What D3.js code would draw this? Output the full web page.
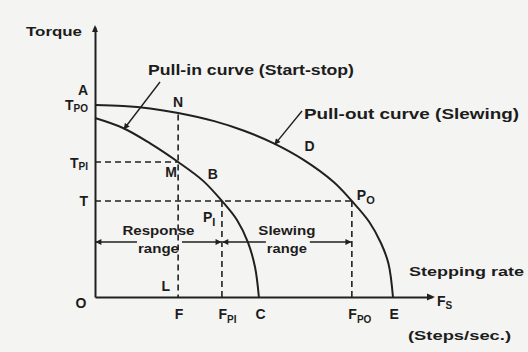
<!DOCTYPE html>
<html>
<head>
<meta charset="utf-8">
<script src="https://cdn.jsdelivr.net/npm/d3@7"></script>
<style>
  html, body { margin: 0; padding: 0; background: #f4f4f2; }
  svg { display: block; }
  text { font-family: "Liberation Sans", Arial, sans-serif; font-weight: bold; fill: #1c1c1c; }
</style>
</head>
<body>
<svg id="chart" width="528" height="352"></svg>
<script>
// Stepper motor characteristics: torque against stepping rate (normalised units)
const pullOutCurve = [[0, 1.0], [0.094, 0.995], [0.185, 0.982], [0.279, 0.958], [0.4, 0.916],
  [0.5, 0.866], [0.6, 0.8], [0.7, 0.714], [0.8, 0.6], [0.862, 0.5], [0.92, 0.392],
  [0.96, 0.28], [0.985, 0.173], [1.0, 0]];
const pullInCurve = [[0, 0.932], [0.094, 0.88], [0.185, 0.8], [0.279, 0.703], [0.362, 0.606],
  [0.426, 0.5], [0.477, 0.4], [0.513, 0.286], [0.537, 0.156], [0.55, 0]];

// Characteristic rates (x) and torques (y)
const rateF = 0.279, ratePI = 0.426, rateC = 0.55, ratePO = 0.862, rateE = 1.0;
const torquePO = 1.0, torquePI = 0.703, torqueT = 0.5;

const xTickValues = [rateF, ratePI, rateC, ratePO, rateE];
const xTickLabels = [["F", ""], ["F", "PI"], ["C", ""], ["F", "PO"], ["E", ""]];
const yTickValues = [torquePO, torquePI, torqueT];
const yTickLabels = [["T", "PO"], ["T", "PI"], ["T", ""]];

// Named points on the diagram
const pointNames = ["A", "N", "M", "B", "D", "P", "P", "L", "O"];
const pointSubs  = ["", "", "", "", "", "O", "I", "", ""];
const pointRates = [0, rateF, rateF, 0.362, 0.72, ratePO, ratePI, rateF, 0];
const pointTorques = [torquePO, 0.958, torquePI, 0.606, 0.70, torqueT, torqueT, 0, 0];

const svg = d3.select("#chart");
const ink = "#202020";

const x = d3.scaleLinear().domain([0, 1.131]).range([95, 432]);
const y = d3.scaleLinear().domain([0, 1.406]).range([297, 27]);

// defs: arrowheads
const defs = svg.append("defs");
defs.append("marker").attr("id", "tip").attr("viewBox", "0 0 10 10")
  .attr("refX", 9).attr("refY", 5).attr("markerWidth", 7).attr("markerHeight", 6)
  .attr("markerUnits", "userSpaceOnUse").attr("orient", "auto-start-reverse")
  .append("path").attr("d", "M0,0L10,5L0,10z").attr("fill", ink);

// axes (no ticks; labels are the characteristic letters)
const gx = svg.append("g").attr("transform", `translate(0,${y(0)})`)
  .call(d3.axisBottom(x).tickValues(xTickValues).tickSize(0).tickSizeOuter(0).tickFormat(() => ""));
const gy = svg.append("g").attr("transform", `translate(${x(0)},0)`)
  .call(d3.axisLeft(y).tickValues(yTickValues).tickSize(0).tickSizeOuter(0).tickFormat(() => ""));
[gx, gy].forEach(g => {
  g.select(".domain").attr("stroke", ink).attr("stroke-width", 2);
  g.attr("font-family", null).attr("font-size", null);
});

gx.selectAll(".tick text").each(function (d, i) {
  const t = d3.select(this).attr("y", 22).attr("dy", null).attr("x", -4)
    .attr("text-anchor", "start").attr("font-size", 14).attr("fill", "#1c1c1c");
  t.append("tspan").text(xTickLabels[i][0]);
  if (xTickLabels[i][1]) t.append("tspan").attr("font-size", 10).attr("dy", 4).text(xTickLabels[i][1]);
});
gy.selectAll(".tick text").each(function (d, i) {
  const t = d3.select(this).attr("x", -7).attr("dy", null).attr("y", 0)
    .attr("text-anchor", "end").attr("font-size", 14).attr("fill", "#1c1c1c");
  t.append("tspan").attr("dy", 5).text(yTickLabels[i][0]);
  if (yTickLabels[i][1]) t.append("tspan").attr("font-size", 10).attr("dy", 2).text(yTickLabels[i][1]);
});

// axis arrowheads
const xEnd = x.range()[1], yTop = y.range()[1];
svg.append("path").attr("d", `M${xEnd + 3},${y(0)}l-8,-3.5v7z`).attr("fill", ink);
svg.append("path").attr("d", `M${x(0)},${yTop - 2}l-3,7h6z`).attr("fill", ink);

// axis titles
svg.append("text").attr("x", 26).attr("y", 36).attr("font-size", 13)
  .attr("textLength", 56).attr("lengthAdjust", "spacingAndGlyphs").text("Torque");
svg.append("text").attr("x", 409).attr("y", 276).attr("font-size", 13.5)
  .attr("textLength", 115).attr("lengthAdjust", "spacingAndGlyphs").text("Stepping rate");
svg.append("text").attr("x", 408).attr("y", 340).attr("font-size", 13.5)
  .attr("textLength", 103).attr("lengthAdjust", "spacingAndGlyphs").text("(Steps/sec.)");
const fs = svg.append("text").attr("x", xEnd + 5).attr("y", y(0) + 9).attr("font-size", 14);
fs.append("tspan").text("F");
fs.append("tspan").attr("font-size", 10).attr("dy", 3).text("S");

// dashed guide lines
const guides = [
  [[0, torquePI], [rateF, torquePI]],
  [[0, torqueT], [ratePO, torqueT]],
  [[rateF, 0.95], [rateF, 0]],
  [[ratePI, torqueT], [ratePI, 0]],
  [[ratePO, torqueT], [ratePO, 0]]
];
svg.append("g").selectAll("line").data(guides).join("line")
  .attr("x1", d => x(d[0][0])).attr("y1", d => y(d[0][1]))
  .attr("x2", d => x(d[1][0])).attr("y2", d => y(d[1][1]))
  .attr("stroke", ink).attr("stroke-width", 1.6).attr("stroke-dasharray", "6,4");

// curves
const line = d3.line().x(d => x(d[0])).y(d => y(d[1])).curve(d3.curveCatmullRom.alpha(0.5));
svg.append("path").datum(pullOutCurve).attr("d", line)
  .attr("fill", "none").attr("stroke", ink).attr("stroke-width", 2);
svg.append("path").datum(pullInCurve).attr("d", line)
  .attr("fill", "none").attr("stroke", ink).attr("stroke-width", 2);

// curve captions with pointers
svg.append("text").attr("x", 148).attr("y", 75).attr("font-size", 14)
  .attr("textLength", 206).attr("lengthAdjust", "spacingAndGlyphs").text("Pull-in curve (Start-stop)");
svg.append("text").attr("x", 304).attr("y", 119).attr("font-size", 14)
  .attr("textLength", 215).attr("lengthAdjust", "spacingAndGlyphs").text("Pull-out curve (Slewing)");
const pointers = [
  { tip: pullInCurve[1], from: [160, 82] },
  { tip: pullOutCurve[6], from: [302, 111] }
];
svg.append("g").selectAll("line").data(pointers).join("line")
  .attr("x1", d => d.from[0]).attr("y1", d => d.from[1])
  .attr("x2", d => x(d.tip[0]) + 1).attr("y2", d => y(d.tip[1]) + 1)
  .attr("stroke", ink).attr("stroke-width", 1.4).attr("marker-end", "url(#tip)");

// point letters, offsets from the point they name
const pointOffsets = [[-12, -10, "middle"], [0, -6, "middle"], [-7, 15, "middle"], [5, -2, "start"],
  [0, -12, "middle"], [5, -1, "start"], [-19, 21, "start"], [-8, -6, "end"], [-14, 11, "middle"]];
pointNames.forEach((n, i) => {
  const o = pointOffsets[i];
  const t = svg.append("text").attr("x", x(pointRates[i]) + o[0]).attr("y", y(pointTorques[i]) + o[1])
    .attr("text-anchor", o[2]).attr("font-size", 14);
  t.append("tspan").text(n);
  if (pointSubs[i]) t.append("tspan").attr("font-size", 11).attr("dy", 4).text(pointSubs[i]);
});

// operating ranges at torque T
const arrowY = 242;
function rangeArrow(r0, r1, top, bottom, topLen, bottomLen) {
  const cx = (x(r0) + x(r1)) / 2;
  svg.append("text").attr("x", cx).attr("y", arrowY - 7).attr("text-anchor", "middle")
    .attr("font-size", 13).attr("textLength", topLen).attr("lengthAdjust", "spacingAndGlyphs").text(top);
  const t2 = svg.append("text").attr("x", cx).attr("y", arrowY + 11).attr("text-anchor", "middle")
    .attr("font-size", 13).attr("textLength", bottomLen).attr("lengthAdjust", "spacingAndGlyphs").text(bottom);
  const b = t2.node().getBBox();
  const segs = [[b.x - 1, x(r0) + 1], [b.x + b.width + 3, x(r1) - 1]];
  svg.append("g").selectAll("line").data(segs).join("line")
    .attr("x1", d => d[0]).attr("x2", d => d[1]).attr("y1", arrowY).attr("y2", arrowY)
    .attr("stroke", ink).attr("stroke-width", 1.4).attr("marker-end", "url(#tip)");
}
rangeArrow(0, ratePI, "Response", "range", 72, 41);
rangeArrow(ratePI, ratePO, "Slewing", "range", 57, 40);
</script>
</body>
</html>
